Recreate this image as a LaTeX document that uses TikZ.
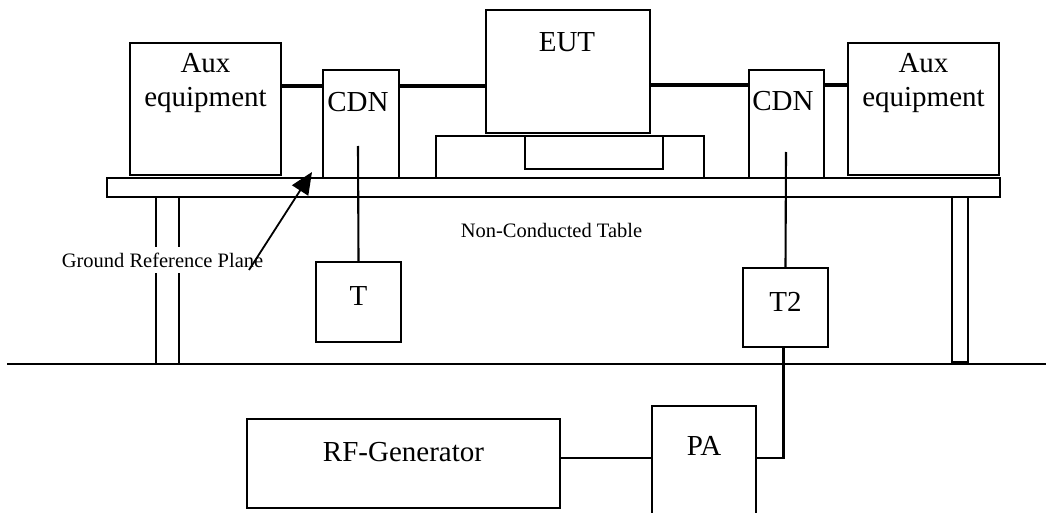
\documentclass[tikz,border=0pt]{standalone}
\usepackage{fontspec}
\setmainfont{Liberation Serif}
\usetikzlibrary{arrows.meta}
\begin{document}
\begin{tikzpicture}[x=1pt,y=-1pt,
  box/.style={draw, line width=2.3pt, inner sep=0pt, minimum width=#1},
  big/.style={font=\fontsize{29}{34}\selectfont, inner sep=0pt, anchor=base},
  small/.style={font=\fontsize{20.5}{24}\selectfont},
  cable/.style={line width=4.5pt},
  wire/.style={line width=2.1pt},
  arr/.style={line width=1.8pt, -{Triangle[length=22pt,width=19pt]}}]
\clip (0,0) rectangle (1046,513);
\fill[white] (0,0) rectangle (1046,513);
% table and legs
\node[box=893pt, minimum height=19pt] (table) at (553.5,187.5) {};
\node[box=23pt, minimum height=167pt] (legL) at (167.5,280.5) {};
\node[box=16pt, minimum height=165pt] (legR) at (960,279.5) {};
\coordinate (g1) at (7,364);
\coordinate (g2) at (1046,364);
\draw[wire] (g1) -- (g2);
% equipment on the table
\node[box=151pt, minimum height=132pt] (auxL) at (205.5,109) {};
\node[box=76pt, minimum height=108pt] (cdnL) at (361,124) {};
\node[box=164pt, minimum height=123pt] (eut) at (568,71.5) {};
\node[box=268pt, minimum height=42pt] (stand) at (570,157) {};
\node[box=138pt, minimum height=33pt] (inner) at (594,152.5) {};
\node[box=75pt, minimum height=108pt] (cdnR) at (786.5,124) {};
\node[box=151pt, minimum height=132pt] (auxR) at (923.5,109) {};
% under the table
\node[box=85pt, minimum height=80pt] (T) at (358.5,302) {};
\node[box=85pt, minimum height=79pt] (T2) at (785.5,307.5) {};
\node[box=313pt, minimum height=89pt] (rf) at (403.5,463.5) {};
\node[box=104pt, minimum height=134pt] (pa) at (704,473) {};
% cables
\coordinate (cabL) at (0,86);
\coordinate (cabR) at (0,85);
\draw[cable] (auxL.east |- cabL) -- (cdnL.west |- cabL);
\draw[cable] (cdnL.east |- cabL) -- (eut.west |- cabL);
\draw[cable] (eut.east |- cabR) -- (cdnR.west |- cabR);
\draw[cable] (cdnR.east |- cabR) -- (auxR.west |- cabR);
% wires
\coordinate (cL) at (358,146);
\coordinate (cR) at (786,152);
\draw[wire] (cL) -- (T.north);
\draw[wire] (cR) -- (T2.north);
\coordinate (sig) at (0,458);
\coordinate (up) at (783.5,0);
\draw[wire] (rf.east |- sig) -- (pa.west |- sig);
\draw[wire] (pa.east |- sig) -| (up |- T2.south);
% labels
\node[big] (auxLa) at (205.5,73) {Aux};
\node[big] (auxLb) at (205.5,107) {equipment};
\node[big] (cdnLt) at (358,112) {CDN};
\node[big] (eutt) at (567,52) {EUT};
\node[big] (cdnRt) at (783,111) {CDN};
\node[big] (auxRa) at (923.5,73) {Aux};
\node[big] (auxRb) at (923.5,107) {equipment};
\node[big] (Tt) at (358.5,305) {T};
\node[big] (T2t) at (785.5,311) {T2};
\node[big] (rft) at (403.5,461) {RF-Generator};
\node[big] (pat) at (704,455) {PA};
\node[small, anchor=base, inner sep=0pt] (nct) at (551.5,237) {Non-Conducted Table};
\node[small, anchor=base, fill=white, inner xsep=0pt, inner ysep=6pt] (grp) at (162.5,267) {Ground Reference Plane};
% arrow
\coordinate (grpTail) at (249,270);
\coordinate (grpTip) at (312,172);
\draw[arr] (grpTail) -- (grpTip);
\end{tikzpicture}
\end{document}
